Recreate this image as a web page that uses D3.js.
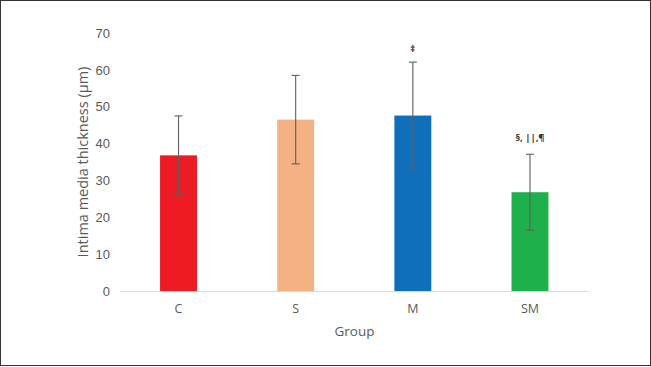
<!doctype html>
<html lang="en">
  <head>
    <meta charset="utf-8">
    <script src="https://d3js.org/d3.v7.min.js"></script>
    <title>Intima media thickness</title>
    <style>
      body { margin: 0; background: #fff; }
      svg { display: block; font-family: "Open Sans", "Liberation Sans", sans-serif; }
    </style>
  </head>
  <body>
    <div id="chart"></div>
    <script type="text/javascript">
      // data
      const groups = ["C", "S", "M", "SM"];
      const means = [36.8, 46.5, 47.6, 26.8];
      const errors = [10.7, 12.0, 14.5, 10.3];
      const barColors = ["#ED1C24", "#F4B183", "#0F6FBA", "#1DB04B"];
      const marks = ["", "", "‡", "§, ||,¶"];
      const yTicks = [0, 10, 20, 30, 40, 50, 60, 70];

      const W = 651, H = 367;
      const margin = {top: 33, right: 62, bottom: 76, left: 120};

      const svg = d3.select("#chart").append("svg")
        .attr("width", W)
        .attr("height", H);

      // frame
      svg.append("rect")
        .attr("x", 0.5).attr("y", 0.5)
        .attr("width", W - 1).attr("height", H - 2)
        .attr("fill", "none")
        .attr("stroke", "#333");

      const x = d3.scaleBand()
        .domain(groups)
        .range([margin.left, W - margin.right - 0.5])
        .paddingInner(0.685)
        .paddingOuter(0.342);

      const y = d3.scaleLinear()
        .domain([0, 70])
        .range([291, 33]);

      // y axis labels (no line, no ticks)
      const yAxis = svg.append("g")
        .attr("transform", "translate(" + (margin.left - 10) + ",0)")
        .call(d3.axisLeft(y).tickValues(yTicks).tickSize(0).tickPadding(0));
      yAxis.select(".domain").remove();
      yAxis.selectAll("text")
        .attr("fill", "#595959")
        .style("font-size", "13px");

      // bars
      svg.append("g")
        .selectAll("rect")
        .data(groups)
        .enter()
        .append("rect")
          .attr("x", d => x(d))
          .attr("y", (d, i) => y(means[i]))
          .attr("width", x.bandwidth())
          .attr("height", (d, i) => y(0) - y(means[i]))
          .attr("fill", (d, i) => barColors[i]);

      // x axis line
      svg.append("line")
        .attr("x1", margin.left).attr("x2", W - margin.right - 0.5)
        .attr("y1", y(0) + 0.5).attr("y2", y(0) + 0.5)
        .attr("stroke", "#d9d9d9");

      // error bars
      const eb = svg.append("g")
        .attr("stroke", "#5f5f5f")
        .attr("stroke-width", 1.1);
      groups.forEach((g, i) => {
        const cx = x(g) + x.bandwidth() / 2;
        const top = y(means[i] + errors[i]);
        const bot = y(means[i] - errors[i]);
        eb.append("line").attr("x1", cx).attr("x2", cx).attr("y1", top).attr("y2", bot);
        eb.append("line").attr("x1", cx - 4).attr("x2", cx + 4).attr("y1", top).attr("y2", top);
        eb.append("line").attr("x1", cx - 4).attr("x2", cx + 4).attr("y1", bot).attr("y2", bot);
      });

      // significance marks
      svg.append("g")
        .selectAll("text")
        .data(groups)
        .enter()
        .append("text")
          .attr("x", d => x(d) + x.bandwidth() / 2)
          .attr("y", (d, i) => y(means[i] + errors[i]) - (i === 3 ? 13 : 10))
          .attr("text-anchor", "middle")
          .attr("fill", "#333")
          .style("font-size", "9.5px")
          .style("font-weight", "bold")
          .text((d, i) => marks[i]);

      // category labels
      svg.append("g")
        .selectAll("text")
        .data(groups)
        .enter()
        .append("text")
          .attr("x", d => x(d) + x.bandwidth() / 2)
          .attr("y", 313)
          .attr("text-anchor", "middle")
          .attr("fill", "#595959")
          .style("font-size", "12.5px")
          .text(d => d);

      // axis titles
      svg.append("text")
        .attr("x", (margin.left + W - margin.right) / 2)
        .attr("y", 336)
        .attr("text-anchor", "middle")
        .attr("fill", "#595959")
        .style("font-size", "13.5px")
        .text("Group");

      svg.append("text")
        .attr("transform", "translate(88," + (y(35)) + ") rotate(-90)")
        .attr("text-anchor", "middle")
        .attr("fill", "#595959")
        .style("font-size", "14.5px")
        .text("Intima media thickness (μm)");
    </script>
  </body>
</html>
